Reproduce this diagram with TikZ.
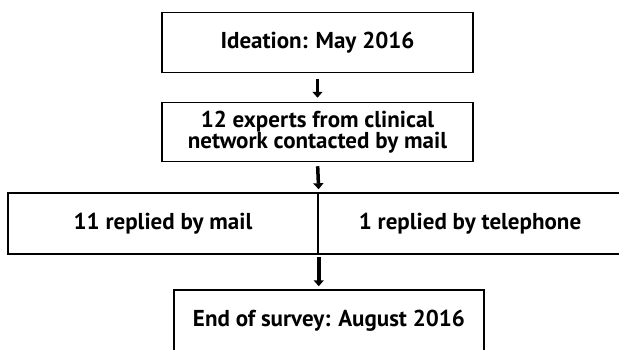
\documentclass[tikz,border=0pt]{standalone}
\usepackage{fontspec}
\setmainfont{PT Sans}
\usetikzlibrary{arrows.meta}

\begin{document}
\begin{tikzpicture}[x=1pt,y=-1pt,
        box/.style={draw,line width=1.5pt,minimum height=60pt,inner sep=0pt,align=center,font=\fontsize{23}{21}\selectfont\bfseries},
        flow/.style={line width=3.5pt,-{Triangle[width=10pt,length=6pt]}}]
        \useasboundingbox (0,0) rectangle (619,349);
        \node[box,minimum width=311pt] (idea) at (317.5,42.5) {Ideation: May 2016};
        \node[box,minimum width=311pt,minimum height=59pt] (experts) at (317.5,132) {12 experts from clinical\\network contacted by mail};
        \node[box,minimum width=310pt,minimum height=61pt] (mail) at (163,223.5) {11 replied by mail};
        \node[box,minimum width=304pt,minimum height=61pt] (phone) at (470,223.5) {1 replied by telephone};
        \node[box,minimum width=310pt,minimum height=61pt] (end) at (329,320.5) {End of survey: August 2016};
        \draw[flow,shorten <=6pt,shorten >=4pt] (idea) -- (experts);
        \draw[flow,shorten <=4pt,shorten >=3pt] (experts.south) -- (mail.north east);
        \draw[flow,shorten <=2pt,shorten >=3pt] (mail.south east) -- (mail.south east |- end.north);
\end{tikzpicture}
\end{document}
